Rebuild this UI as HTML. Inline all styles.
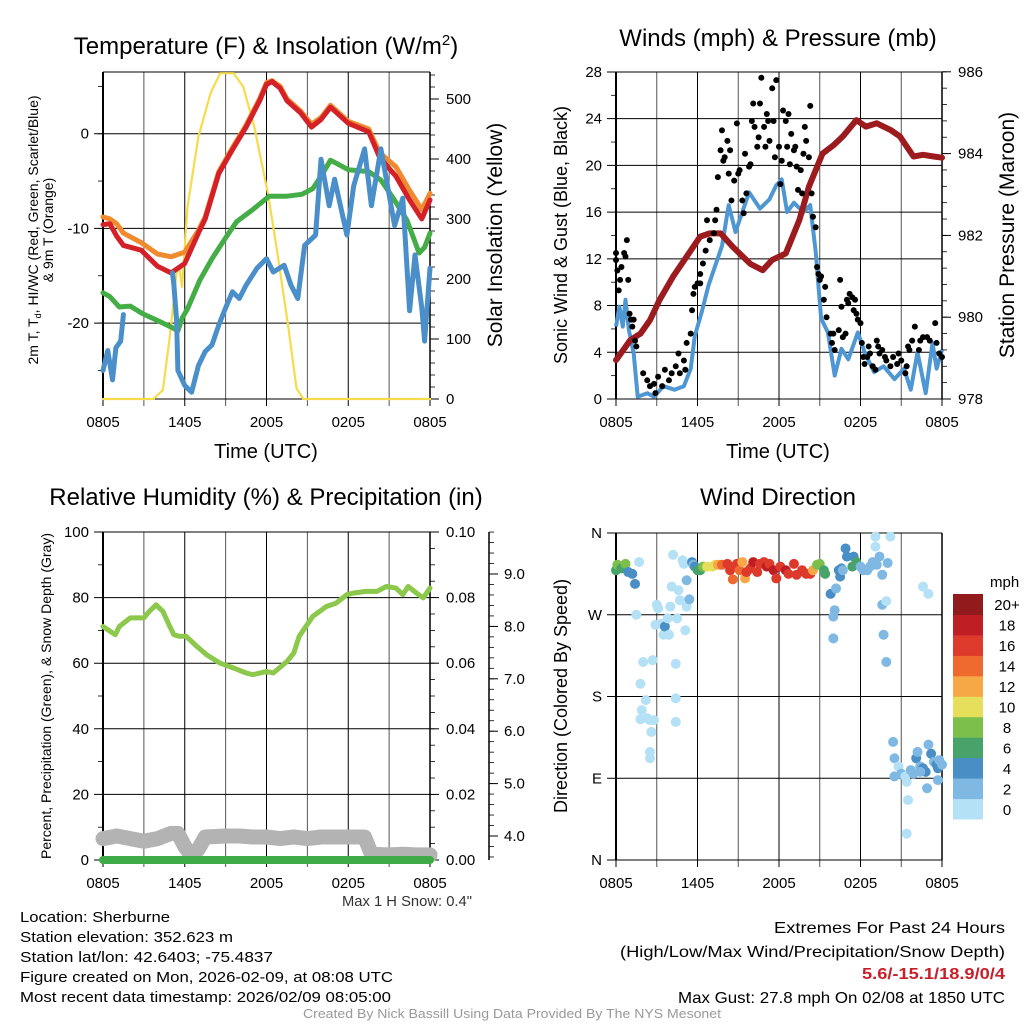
<!DOCTYPE html>
<html><head><meta charset="utf-8">
<style>
html,body{margin:0;padding:0;background:#fff;}
svg{display:block;font-family:"Liberation Sans",Arial,sans-serif;}
</style></head>
<body>
<svg id="fig" width="1024" height="1024" viewBox="0 0 1024 1024" xmlns="http://www.w3.org/2000/svg">
<rect x="0" y="0" width="1024" height="1024" fill="#fff"/>
<g id="layer"></g>
<text x="266" y="54" font-size="24" text-anchor="middle">Temperature (F) &amp; Insolation (W/m<tspan dy="-9" font-size="15">2</tspan><tspan dy="9">)</tspan></text>
<text x="778" y="46" font-size="24" text-anchor="middle">Winds (mph) &amp; Pressure (mb)</text>
<text x="266" y="505" font-size="24" text-anchor="middle">Relative Humidity (%) &amp; Precipitation (in)</text>
<text x="778" y="505" font-size="24" text-anchor="middle">Wind Direction</text>
<text x="266" y="458" font-size="20" text-anchor="middle">Time (UTC)</text>
<text x="778" y="458" font-size="20" text-anchor="middle">Time (UTC)</text>
<text transform="translate(38,230) rotate(-90)" font-size="14" text-anchor="middle">2m T, T<tspan font-size="9" dy="3">d</tspan><tspan dy="-3">, HI/WC (Red, Green, Scarlet/Blue)</tspan></text>
<text transform="translate(53,230) rotate(-90)" font-size="14" text-anchor="middle">&amp; 9m T (Orange)</text>
<text transform="translate(502,235) rotate(-90)" font-size="21" text-anchor="middle">Solar Insolation (Yellow)</text>
<text transform="translate(567,235) rotate(-90)" font-size="18" text-anchor="middle">Sonic Wind &amp; Gust (Blue, Black)</text>
<text transform="translate(1014,235) rotate(-90)" font-size="21" text-anchor="middle">Station Pressure (Maroon)</text>
<text transform="translate(51,696) rotate(-90)" font-size="14" text-anchor="middle">Percent, Precipitation (Green), &amp; Snow Depth (Gray)</text>
<text transform="translate(567,696) rotate(-90)" font-size="18" text-anchor="middle">Direction (Colored By Speed)</text>
<text x="342" y="906" font-size="15" fill="#333" textLength="130" lengthAdjust="spacingAndGlyphs">Max 1 H Snow: 0.4"</text>
<g font-size="15">
<text x="20" y="922" textLength="150" lengthAdjust="spacingAndGlyphs">Location: Sherburne</text>
<text x="20" y="942" textLength="213" lengthAdjust="spacingAndGlyphs">Station elevation: 352.623 m</text>
<text x="20" y="962" textLength="253" lengthAdjust="spacingAndGlyphs">Station lat/lon: 42.6403; -75.4837</text>
<text x="20" y="982" textLength="373" lengthAdjust="spacingAndGlyphs">Figure created on Mon, 2026-02-09, at 08:08 UTC</text>
<text x="20" y="1002" textLength="371" lengthAdjust="spacingAndGlyphs">Most recent data timestamp: 2026/02/09 08:05:00</text>
</g>
<g font-size="16">
<text x="774" y="933" textLength="231" lengthAdjust="spacingAndGlyphs">Extremes For Past 24 Hours</text>
<text x="620" y="957" textLength="385" lengthAdjust="spacingAndGlyphs">(High/Low/Max Wind/Precipitation/Snow Depth)</text>
<text x="862" y="979" font-weight="bold" fill="#c8202a" textLength="143" lengthAdjust="spacingAndGlyphs">5.6/-15.1/18.9/0/4</text>
<text x="678" y="1003" textLength="327" lengthAdjust="spacingAndGlyphs">Max Gust: 27.8 mph On 02/08 at 1850 UTC</text>
</g>
<text x="303" y="1018" font-size="12.5" fill="#999" textLength="418" lengthAdjust="spacingAndGlyphs">Created By Nick Bassill Using Data Provided By The NYS Mesonet</text>
</svg>
<script>
const timeTickLabels=["0805","1405","2005","0205","0805"];
const tempTicks=[0,-10,-20];
const solarTicks=[0,100,200,300,400,500];
const tempH=[0,0.5,1,1.5,2.8,4,5,6,7,7.5,8.5,9.5,10.5,11.5,12,12.4,13,13.5,14.5,15.3,16,16.7,18,19.5,20.3,21.5,22.5,23.4,24];
const tempV=[-9.6,-9.5,-10.8,-11.8,-12.3,-14,-14.7,-13.7,-10.5,-9,-4.2,-1.7,0.7,3.5,5.2,5.5,4.8,3.5,2.2,0.7,1.5,2.8,1.1,0.2,-2.5,-4.5,-7,-9,-7];
const t9V=[-8.8,-9,-9.5,-10.5,-11.5,-12.7,-13,-12.5,-10.2,-8.8,-4,-1.5,0.9,3.7,5.4,5.6,5,3.7,2.4,1,1.7,3,1.3,0.5,-2,-3.5,-6,-8,-6.3];
const dewH=[0,0.5,1.2,2,2.9,4.1,5.1,5.5,5.8,6.2,7.1,8,9,9.8,11,12.2,13.5,14.6,15.4,16,16.7,18,19.5,20.4,21.3,22.3,23.2,23.6,24];
const dewV=[-16.8,-17.2,-18.3,-18.2,-19,-19.8,-20.5,-20.8,-19.5,-18.5,-15.5,-13.2,-11,-9.3,-8,-6.6,-6.6,-6.4,-5.8,-4.5,-2.8,-3.8,-4,-4.9,-6.8,-9.1,-12.6,-12,-10.5];
const wcH=[0,0.35,0.7,0.95,1.3,1.5,3,5.1,5.2,5.4,5.5,6,6.5,7,7.5,8,8.5,9,9.5,10,10.5,11.3,12,12.5,13.3,13.8,14.3,14.8,15.6,16,16.6,17,17.9,18.4,19.2,19.7,20.4,21.4,22,22.5,22.9,23.4,23.6,24];
const wcV=[-25,-22.9,-26,-22.6,-21.9,-19.1,null,-14.7,-16,-19.7,-25,-26.6,-27.3,-24.5,-23,-22.3,-20.2,-18.4,-16.7,-17.4,-16,-14.2,-13.2,-14.6,-13.9,-16,-17.4,-11.8,-10.7,-2.7,-7.6,-4.8,-10.7,-5.5,-1.6,-7.6,-1.6,-9.7,-6.8,-18.7,-12.8,-18.4,-21.9,-14.2];
const solH=[0,3.7,4.4,4.9,5.4,5.6,5.8,6.2,7,7.9,8.6,9.6,10.3,11.1,12.1,12.8,13.6,14.2,14.7,24];
const solV=[0,0,15,104,210,220,187,320,437,510,543,543,520,454,343,243,120,18,0,0];

const windTicks=[0,4,8,12,16,20,24,28];
const presTicks=[978,980,982,984,986];
const presH=[0,1.05,1.8,2.5,3.2,4.2,5.2,6.2,6.9,7.7,8.6,9.9,10.8,11.5,12.5,13.5,14.2,15.2,16,16.7,17.7,18.4,19.2,20.2,20.9,21.9,22.6,23.4,24];
const presV=[978.95,979.44,979.6,979.93,980.42,980.99,981.48,981.97,982.05,982.05,981.72,981.3,981.15,981.4,981.56,982.38,983.19,984.0,984.2,984.42,984.82,984.66,984.74,984.58,984.42,983.93,983.97,983.93,983.9];
const windH=[0,0.25,0.5,0.7,0.95,1.3,1.6,2.3,2.8,3.5,4.3,5,5.5,5.8,6.3,6.8,7.3,7.8,8.3,8.8,9.3,9.8,10.6,11.3,11.8,12.2,12.6,13.1,13.8,14.3,14.7,15.1,15.6,16.1,16.6,17.1,17.8,18.3,19,19.7,20.5,21.2,21.7,22.2,22.8,23.3,23.6,24];
const windV=[6.2,7.9,6.2,8.5,5.9,3.9,0.2,0.5,0.2,1.1,0.8,1.1,2.6,5.4,7.4,9.7,11.4,13.1,16.6,14.3,16,17.7,16.3,17.1,18.3,18.8,16,16.8,16,16.6,12.6,6.9,5.7,2,4.3,3.4,5.7,4,2.3,2.8,1.7,2.6,0.8,4,0.5,4.8,2.6,4.2];
const gustH=[0,0,0.1,0.3,0.2,0.4,0.6,0.7,0.8,0.9,1.0,1.1,1.2,1.3,1.4,1.5,2.0,2.3,2.5,2.8,2.9,3.1,3.4,3.6,3.9,4.1,4.4,4.6,4.7,5.0,5.1,5.2,5.5,5.6,5.7,5.8,6.0,6.2,6.2,6.4,6.6,6.7,6.9,7.2,7.3,7.4,7.5,7.7,7.8,7.9,8.0,8.2,8.3,8.4,8.5,8.7,8.9,9.0,9.1,9.3,9.4,9.5,9.6,9.8,9.9,10.0,10.1,10.2,10.4,10.5,10.6,10.7,10.9,11.0,11.1,11.2,11.3,11.5,11.6,11.7,11.8,12.0,12.1,12.2,12.3,12.5,12.6,12.7,12.8,12.9,13.1,13.2,13.3,13.4,13.6,13.7,13.8,13.9,14.0,14.2,14.3,14.4,14.5,14.7,14.8,14.9,15.0,15.1,15.3,15.4,15.5,15.8,15.9,16.0,16.1,16.4,16.5,16.6,16.7,16.9,17.0,17.1,17.2,17.4,17.5,17.6,17.7,17.8,18.0,18.1,18.2,18.3,18.5,18.6,18.7,18.9,19.1,19.2,19.3,19.4,19.6,19.8,19.9,20.2,20.4,20.7,20.8,21.0,21.3,21.4,21.5,21.6,21.8,22.0,22.3,22.4,22.6,22.9,23.1,23.5,23.6,23.8,24.0];
const gustV=[11.9,12.5,11.0,10.2,9.3,11.3,12.5,12.2,13.6,10.2,7.3,6.8,6.2,6.8,5.0,4.5,2.2,1.6,1.1,1.3,0.5,1.9,1.1,2.5,1.6,2.2,2.8,3.9,2.2,3.3,2.5,4.8,5.6,7.6,9.0,9.6,9.9,9.9,10.7,11.6,12.7,15.3,13.6,14.2,15.3,16.2,19.0,21.3,23.0,20.4,20.7,22.1,19.3,21.3,17.0,18.7,23.6,19.3,19.6,17.0,15.9,21.0,17.6,19.9,20.1,23.8,25.3,23.3,21.6,22.4,25.3,27.5,23.3,21.6,24.4,23.8,22.1,26.6,23.8,20.7,27.3,21.6,18.4,20.4,24.7,23.8,21.6,24.4,20.1,22.7,21.3,21.6,19.9,17.9,19.6,17.6,21.0,23.3,22.1,20.7,25.1,17.6,15.6,14.7,11.3,10.7,10.2,10.5,8.5,9.6,7.0,5.6,4.8,5.6,4.2,5.9,10.2,7.9,5.3,5.6,8.5,8.2,9.0,8.7,7.6,8.5,7.3,6.8,6.5,4.8,3.6,3.0,3.6,4.5,3.9,2.8,2.5,5.0,4.5,3.9,4.2,3.6,3.3,2.8,3.6,3.0,3.9,3.3,2.2,2.8,4.5,4.2,5.0,6.2,4.2,5.0,5.3,5.3,5.0,6.5,4.8,3.9,3.6];

const rhTicks=[0,20,40,60,80,100];
const precipTicks=["0.00","0.02","0.04","0.06","0.08","0.10"];
const snowTicks=[4,5,6,7,8,9];
const rhH=[0,0.9,1.2,2,3,3.4,3.9,4.4,4.9,5.2,5.6,6.1,6.9,7.6,8.6,9.6,10.5,11,12,12.5,13.5,14,14.4,15.4,16.4,17.1,17.9,18.4,19.3,20.1,20.8,21.5,22,22.4,23,23.5,24];
const rhV=[71.2,68.7,71.2,73.8,73.8,75.8,77.8,75.8,71.2,68.7,68.2,68.2,65.1,62.6,60.0,58.5,57.0,56.5,57.5,57.0,60.5,63.1,68.2,74.3,77.3,78.3,80.9,81.4,81.9,81.9,83.4,82.9,80.9,83.4,81.4,79.9,82.9];
const snowH=[0,1,2,3,4,4.5,5,5.5,6,6.5,7,7.5,9,10,11,12,13,14,15,16,17,18,18.5,19.2,19.7,21,22,23,24];
const snowV=[3.95,4.0,3.95,3.9,3.95,4.0,4.05,4.05,3.8,3.62,3.75,3.98,4.0,4.0,3.98,3.98,3.95,3.98,3.95,3.98,3.98,3.98,3.98,3.98,3.65,3.64,3.65,3.64,3.64];
const precipH=[0,24];
const precipV=[0,0];

const dirLabels=["N","W","S","E","N"];
const dirTicks=[360,270,180,90,0];
const dirH=[0,0.1,0.4,0.7,0.9,1.2,1.4,1.7,1.5,2.0,1.8,1.9,1.8,2.2,2.3,2.5,2.6,2.8,2.5,2.5,2.7,3.0,3.1,2.9,3.3,3.5,3.6,3.8,3.9,4.0,4.1,4.2,4.4,4.4,4.4,4.5,4.6,4.7,4.9,5.0,5.1,5.2,5.2,5.4,5.6,5.7,5.8,6.0,6.2,6.4,6.7,7.1,7.3,7.5,7.8,8.2,8.4,8.6,8.9,9.1,9.3,9.5,9.6,9.9,10.1,10.4,10.6,10.9,11.1,11.3,11.6,11.8,12.1,12.5,12.7,13.1,13.3,13.7,14.0,14.3,14.5,14.8,15.0,15.3,15.4,15.8,16.0,16.0,16.1,16.2,16.4,16.5,16.6,16.7,16.9,17.0,17.4,17.5,17.7,18.0,18.2,18.5,18.7,18.9,19.1,19.2,19.4,19.6,19.1,20.0,20.2,19.6,19.9,19.7,19.9,20.4,20.5,20.8,20.5,21.0,21.3,21.4,21.5,21.4,21.7,21.9,22.1,22.2,22.4,22.6,22.8,23.0,23.2,23.4,23.6,23.7,23.8,24.0,23.7,22.9,22.6,23.0,22.4];
const dirV=[319,325,321,326,317,315,304,328,270,218,194,165,155,176,156,154,141,154,119,112,220,281,277,259,260,248,257,266,248,279,301,336,216,178,152,266,297,286,330,326,253,279,308,287,328,325,323,319,319,323,323,323,325,325,325,326,319,309,326,319,328,310,317,321,328,317,326,328,323,326,319,310,323,319,315,326,314,319,315,315,319,325,326,319,315,293,268,244,275,299,319,312,321,319,343,334,323,334,328,323,319,319,323,328,345,325,334,314,356,327,356,281,285,248,218,130,112,103,92,95,92,86,66,29,99,95,112,119,103,101,97,127,117,108,105,101,110,105,88,79,301,293,97];
const dirSpeed=[6,8,6,8,4,4,4,1,1,0,0,0,0,0,0,0,0,0,0,0,0,0,0,0,1,0,4,1,0,0,0,0,0,0,0,0,0,1,0,0,0,0,2,3,4,2,4,6,6,8,10,10,10,12,14,16,16,14,16,14,12,12,16,16,18,16,16,16,18,16,18,16,16,18,16,16,16,16,16,16,12,8,8,6,6,4,3,2,2,3,4,4,4,3,4,4,6,4,6,3,2,2,2,2,1,2,2,3,0,3,1,3,0,3,3,2,2,1,2,2,1,0,0,0,2,3,4,2,2,4,4,2,4,3,4,4,2,2,2,3,0,0,3];
const speedBins=["0","2","4","6","8","10","12","14","16","18","20+"];
const speedColors=["#b4e1f6","#7fb9e3","#4a8ec6","#47a36a","#7cbf4a","#e5df5c","#f5a845","#ee6a2e","#dd3a2b","#be1d24","#901a1c"];

const NS="http://www.w3.org/2000/svg";
const layer=document.getElementById('layer');
function mk(tag,attrs,parent){const e=document.createElementNS(NS,tag);for(const k in attrs)e.setAttribute(k,attrs[k]);(parent||layer).appendChild(e);return e;}
function linePath(hs,vs,X,Y){let d="",pen=false;for(let i=0;i<hs.length;i++){if(vs[i]===null||vs[i]===undefined){pen=false;continue;}d+=(pen?"L":"M")+X(hs[i]).toFixed(1)+","+Y(vs[i]).toFixed(1);pen=true;}return d;}

function makePanel(name,x0,x1,y0,y1){
  const g=mk('g',{});
  
  
  const X=h=>x0+h/24*(x1-x0);
  return {g,x0,x1,y0,y1,X};
}
function frame(p,leftTicks,leftScale,leftLabels,leftMinor,rightSpec){
  const g=p.g;
  const grid=mk('g',{stroke:'#000','stroke-width':1},g);
  
  
  for(let i=0;i<=8;i++){const x=p.X(i*3);mk('line',{x1:x,x2:x,y1:p.y0,y2:p.y1+7,stroke:(i%2?'#555':'#000')},grid);}
  leftTicks.forEach((v,i)=>{const y=leftScale(v);mk('line',{x1:p.x0-9,x2:p.x1,y1:y,y2:y},grid);
    const t=mk('text',{x:p.x0-14,y:y+5,'font-size':15,'text-anchor':'end'},g);t.textContent=leftLabels[i];
    
    });
  leftMinor.forEach(v=>{const y=leftScale(v);mk('line',{x1:p.x0-5,x2:p.x0,y1:y,y2:y,stroke:'#000','stroke-width':0.8},g);});
  timeTickLabels.forEach((s,i)=>{const t=mk('text',{x:p.X(i*6),y:p.y1+28,'font-size':15,'text-anchor':'middle'},g);t.textContent=s;
    
    });
  mk('line',{x1:p.x0,x2:p.x0,y1:p.y0,y2:p.y1,stroke:'#000','stroke-width':2},g);
  mk('line',{x1:p.x1,x2:p.x1,y1:p.y0,y2:p.y1,stroke:'#000','stroke-width':1.5},g);
  mk('line',{x1:p.x0,x2:p.x1,y1:p.y0,y2:p.y0,stroke:'#000','stroke-width':1},g);
  mk('line',{x1:p.x0,x2:p.x1,y1:p.y1,y2:p.y1,stroke:'#000','stroke-width':1},g);
  if(rightSpec){
    rightSpec.ticks.forEach((v,i)=>{const y=rightSpec.scale(v);mk('line',{x1:p.x1,x2:p.x1+9,y1:y,y2:y,stroke:'#000','stroke-width':1},g);
      const t=mk('text',{x:p.x1+16,y:y+5,'font-size':15},g);t.textContent=rightSpec.labels[i];
      
      });
    rightSpec.minor.forEach(v=>{const y=rightSpec.scale(v);mk('line',{x1:p.x1,x2:p.x1+5,y1:y,y2:y,stroke:'#000','stroke-width':0.8},g);});
  }
}
function range(a,b,s){const r=[];for(let v=a;v<=b+1e-9;v+=s)r.push(+v.toFixed(4));return r;}

const p1=makePanel('temperature-panel',103,430,72,399);
const T1=v=>133.7-v*9.47;
const S1=v=>399-v*0.6;
frame(p1,tempTicks,T1,tempTicks.map(String),range(-25,5,5),{ticks:solarTicks,scale:S1,labels:solarTicks.map(String),minor:range(0,540,20)});
const s1=[[solH,solV,'#f6dc4a',2.2,S1,'solar-line'],[tempH,t9V,'#f08a2e',5,T1,'temp-9m-line'],[tempH,tempV,'#d42027',5,T1,'temp-2m-line'],[dewH,dewV,'#44ad45',5,T1,'dewpoint-line'],[wcH,wcV,'#4a8fca',5,T1,'windchill-line']];
s1.forEach(s=>{const e=mk('path',{d:linePath(s[0],s[1],p1.X,s[4]),fill:'none',stroke:s[2],'stroke-width':s[3],'stroke-linejoin':'round','stroke-linecap':'round'},p1.g);
  
  });

const p2=makePanel('winds-panel',616,942,72,399);
const W2=v=>399-v*11.68;
const P2=v=>399-(v-978)*40.9;
frame(p2,windTicks,W2,windTicks.map(String),range(2,26,4),{ticks:presTicks,scale:P2,labels:presTicks.map(String),minor:range(978,986,0.4)});
const wl=mk('path',{d:linePath(windH,windV,p2.X,W2),fill:'none',stroke:'#4f97d3','stroke-width':4,'stroke-linejoin':'round'},p2.g);


const pl=mk('path',{d:linePath(presH,presV,p2.X,P2),fill:'none',stroke:'#9c1b1e','stroke-width':6,'stroke-linejoin':'round','stroke-linecap':'round'},p2.g);


gustH.forEach((h,i)=>{const c=mk('circle',{cx:p2.X(h),cy:W2(gustV[i]),r:3,fill:'#000'},p2.g);
  
  });

const p3=makePanel('humidity-panel',103,430,532,860);
const R3=v=>860-v*3.28;
const Sn=v=>836-(v-4)*52.4;
frame(p3,rhTicks,R3,rhTicks.map(String),range(10,90,20),{ticks:rhTicks,scale:R3,labels:precipTicks,minor:range(0,100,5)});
const sl=mk('path',{d:linePath(snowH,snowV,p3.X,Sn),fill:'none',stroke:'#b3b3b3','stroke-width':15,'stroke-linejoin':'round','stroke-linecap':'round'},p3.g);


const prl=mk('path',{d:linePath(precipH,precipV,p3.X,v=>R3(v*1000)),fill:'none',stroke:'#3eab48','stroke-width':8,'stroke-linecap':'round'},p3.g);


const rl=mk('path',{d:linePath(rhH,rhV,p3.X,R3),fill:'none',stroke:'#8cc84b','stroke-width':5,'stroke-linejoin':'round','stroke-linecap':'round'},p3.g);


const sax=mk('g',{},p3.g);


mk('line',{x1:489,x2:489,y1:532,y2:860,stroke:'#000','stroke-width':1.5},sax);
snowTicks.forEach(v=>{const y=Sn(v);mk('line',{x1:489,x2:498,y1:y,y2:y,stroke:'#000'},sax);
  const t=mk('text',{x:504,y:y+5,'font-size':15},sax);t.textContent=v.toFixed(1);});
range(3.6,9.8,0.2).forEach(v=>{const y=Sn(v);mk('line',{x1:489,x2:494,y1:y,y2:y,stroke:'#000','stroke-width':0.8},sax);});

const p4=makePanel('wind-direction-panel',616,942,533,860);
const D4=v=>860-v*(327/360);
frame(p4,dirTicks,D4,dirLabels,[],null);
dirH.forEach((h,i)=>{const idx=Math.min(10,Math.floor(dirSpeed[i]/2));const c=mk('circle',{cx:p4.X(h),cy:D4(dirV[i]),r:5,fill:speedColors[idx]},p4.g);
  
  });
const cb=mk('g',{});


const cbTop=594,cbBot=819,cbH=(cbBot-cbTop)/speedBins.length;
speedBins.forEach((s,i)=>{const y=cbBot-(i+1)*cbH;
  const r=mk('rect',{x:953,y:y,width:30,height:cbH+0.5,fill:speedColors[i]},cb);
  
  
  const t=mk('text',{x:1007,y:y+cbH/2+6,'font-size':15,'text-anchor':'middle'},cb);t.textContent=s;});
const mt=mk('text',{x:990,y:587,'font-size':15},cb);mt.textContent='mph';
</script>
</body></html>
